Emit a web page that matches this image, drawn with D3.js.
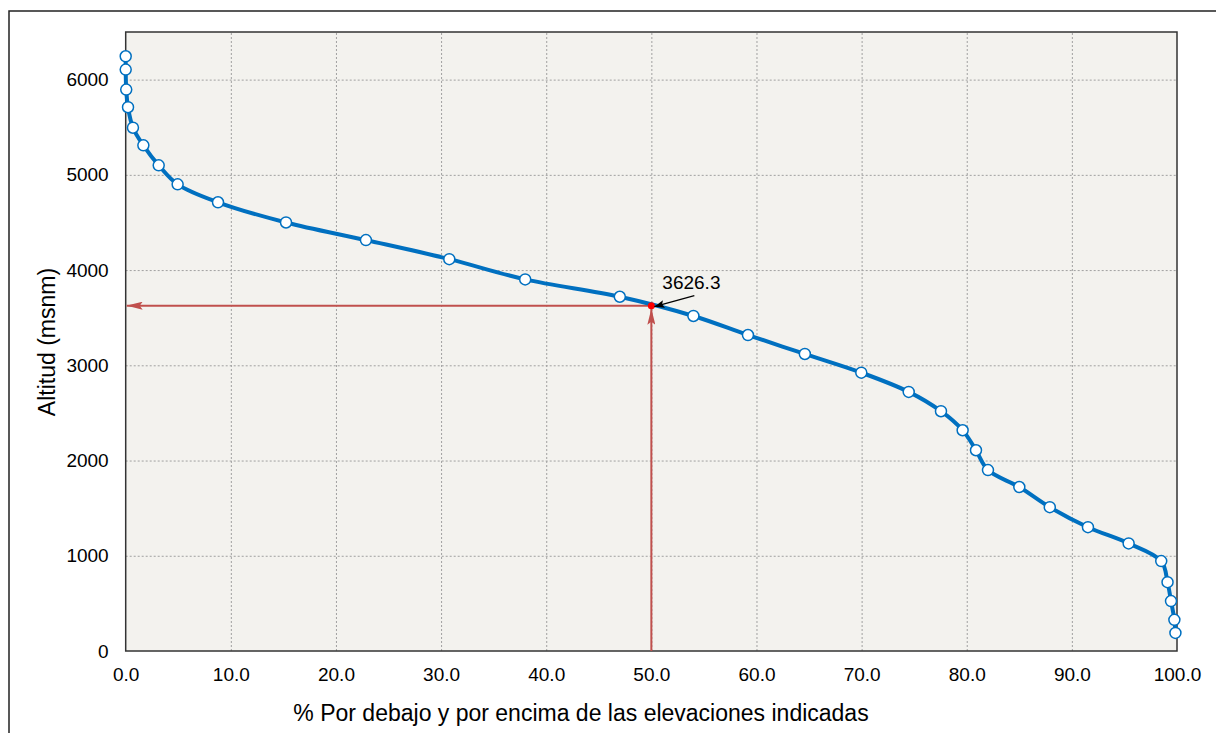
<!DOCTYPE html>
<html>
<head>
<meta charset="utf-8">
<script src="https://cdn.jsdelivr.net/npm/d3@7"></script>
<style>
  body { margin: 0; background: #fff; }
  text { font-family: Arial, "Liberation Sans", sans-serif; fill: #000; }
</style>
</head>
<body>
<div id="chart"></div>
<script>
var width_chart = 1216,
    height_chart = 733;

// percent of area above/below (x) and altitude (y)
var pct_values = [0.0, 0.0, 0.05, 0.22, 0.69, 1.68, 3.14, 4.94, 8.78, 15.25,
                  22.85, 30.78, 38.0, 47.0, 54.0, 59.19, 64.6, 69.97, 74.48, 77.55,
                  79.61, 80.88, 82.02, 85.0, 87.9, 91.53, 95.4, 98.5, 99.1, 99.43,
                  99.75, 99.85];
var alt_values = [6245, 6105, 5895, 5710, 5495, 5310, 5100, 4900, 4712, 4500,
                  4315, 4115, 3902, 3720, 3518, 3318, 3119, 2923, 2721, 2518,
                  2318, 2108, 1900, 1722, 1510, 1300, 1130, 944, 723, 524,
                  327, 190];

var x_ticks = [0, 10, 20, 30, 40, 50, 60, 70, 80, 90, 100];
var y_ticks = [0, 1000, 2000, 3000, 4000, 5000, 6000];

// median altitude
var median_pct = 50.0,
    median_alt = 3626.3;

var color_line = "#0070c0";
var color_red = "#c0504d";

var plot = {left: 125.7, right: 1177, top: 32, bottom: 651};

var svg = d3.select("#chart").append("svg")
    .attr("width", width_chart)
    .attr("height", height_chart);

var x = d3.scaleLinear().domain([0, 100]).range([plot.left, plot.right]);
var y = d3.scaleLinear().domain([0, 6500]).range([plot.bottom, plot.top]);

// outer frame
svg.append("rect")
    .attr("x", 9).attr("y", 11)
    .attr("width", 1240).attr("height", 760)
    .style("fill", "none")
    .style("stroke", "#222")
    .style("stroke-width", 1.5);

var defs = svg.append("defs");
defs.append("marker")
    .attr("id", "arr_red")
    .attr("viewBox", "0 0 16 8")
    .attr("refX", 16).attr("refY", 4)
    .attr("markerWidth", 16).attr("markerHeight", 8)
    .attr("markerUnits", "userSpaceOnUse")
    .attr("orient", "auto")
  .append("path")
    .attr("d", "M0,0 L16,4 L0,8 L3,4 Z")
    .style("fill", color_red);
defs.append("marker")
    .attr("id", "arr_black")
    .attr("viewBox", "0 0 10 8")
    .attr("refX", 10).attr("refY", 4)
    .attr("markerWidth", 10).attr("markerHeight", 8)
    .attr("markerUnits", "userSpaceOnUse")
    .attr("orient", "auto")
  .append("path")
    .attr("d", "M0,0 L10,4 L0,8 L2,4 Z")
    .style("fill", "#000");

// plot background
svg.append("rect")
    .attr("x", plot.left).attr("y", plot.top)
    .attr("width", plot.right - plot.left)
    .attr("height", plot.bottom - plot.top)
    .style("fill", "#f3f2ee");

// gridlines
svg.append("g")
    .attr("transform", "translate(0," + plot.bottom + ")")
    .call(d3.axisBottom(x).tickValues(x_ticks.slice(1, -1)).tickSize(-(plot.bottom - plot.top)).tickFormat(""))
    .call(function(g) { g.select(".domain").remove(); })
    .selectAll("line")
    .style("stroke", "#a0a0a0")
    .style("stroke-dasharray", "2,2");

svg.append("g")
    .attr("transform", "translate(" + plot.left + ",0)")
    .call(d3.axisLeft(y).tickValues(y_ticks.slice(1)).tickSize(-(plot.right - plot.left)).tickFormat(""))
    .call(function(g) { g.select(".domain").remove(); })
    .selectAll("line")
    .style("stroke", "#a0a0a0")
    .style("stroke-dasharray", "2,2");

// plot border
svg.append("rect")
    .attr("x", plot.left).attr("y", plot.top)
    .attr("width", plot.right - plot.left)
    .attr("height", plot.bottom - plot.top)
    .style("fill", "none")
    .style("stroke", "#333")
    .style("stroke-width", 1.5);

// tick labels
var xAxis = svg.append("g")
    .attr("transform", "translate(0," + plot.bottom + ")")
    .call(d3.axisBottom(x).tickValues(x_ticks).tickSize(0).tickPadding(17).tickFormat(d3.format(".1f")));
xAxis.select(".domain").remove();
xAxis.selectAll("text").style("font-size", "19px").style("fill", "#000");

var yAxis = svg.append("g")
    .attr("transform", "translate(" + plot.left + ",0)")
    .call(d3.axisLeft(y).tickValues(y_ticks).tickSize(0).tickPadding(17).tickFormat(d3.format("d")));
yAxis.select(".domain").remove();
yAxis.selectAll("text").style("font-size", "19px").style("fill", "#000");

// red reading lines
svg.append("line")
    .attr("x1", x(median_pct)).attr("y1", y(median_alt))
    .attr("x2", x(0) + 1).attr("y2", y(median_alt))
    .style("stroke", color_red)
    .style("stroke-width", 2)
    .attr("marker-end", "url(#arr_red)");

svg.append("line")
    .attr("x1", x(median_pct)).attr("y1", y(0))
    .attr("x2", x(median_pct)).attr("y2", y(median_alt) + 3)
    .style("stroke", color_red)
    .style("stroke-width", 2)
    .attr("marker-end", "url(#arr_red)");

// curve
var points = pct_values.map(function(d, i) { return {p: d, a: alt_values[i]}; });

var line = d3.line()
    .x(function(d) { return x(d.p); })
    .y(function(d) { return y(d.a); })
    .curve(d3.curveCatmullRom.alpha(0.5));

svg.append("path")
    .datum(points)
    .attr("d", line)
    .style("fill", "none")
    .style("stroke", color_line)
    .style("stroke-width", 4);

svg.selectAll("circle.pt")
    .data(points)
    .enter().append("circle")
    .attr("class", "pt")
    .attr("cx", function(d) { return x(d.p); })
    .attr("cy", function(d) { return y(d.a); })
    .attr("r", 5.5)
    .style("fill", "#fff")
    .style("stroke", color_line)
    .style("stroke-width", 1.5);

// median point + label
svg.append("circle")
    .attr("cx", x(median_pct)).attr("cy", y(median_alt))
    .attr("r", 3.5)
    .style("fill", "#ff0000");

svg.append("line")
    .attr("x1", x(median_pct) + 43).attr("y1", y(median_alt) - 10)
    .attr("x2", x(median_pct) + 3).attr("y2", y(median_alt) + 1)
    .style("stroke", "#000")
    .style("stroke-width", 1.2)
    .attr("marker-end", "url(#arr_black)");

svg.append("text")
    .attr("x", x(median_pct) + 11)
    .attr("y", y(median_alt) - 16.5)
    .style("font-size", "19px")
    .text(d3.format(".1f")(median_alt));

// axis titles
svg.append("text")
    .attr("transform", "translate(47,342) rotate(-90)")
    .attr("text-anchor", "middle")
    .attr("dy", "0.35em")
    .style("font-size", "23px")
    .text("Altitud (msnm)");

svg.append("text")
    .attr("x", 581)
    .attr("y", 721)
    .attr("text-anchor", "middle")
    .style("font-size", "23px")
    .text("% Por debajo y por encima de las elevaciones indicadas");
</script>
</body>
</html>
